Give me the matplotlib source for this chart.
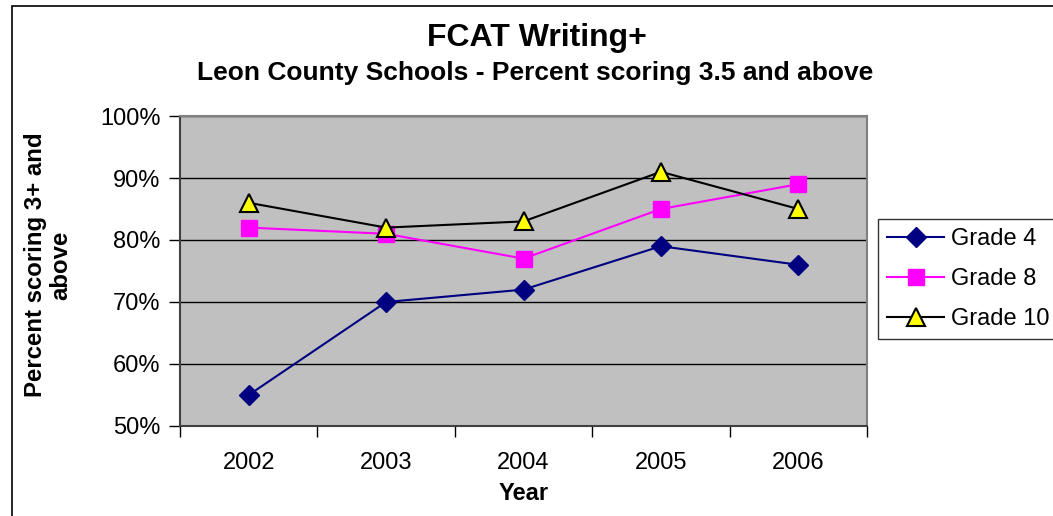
import matplotlib.pyplot as plt
from matplotlib.patches import Rectangle
from matplotlib.ticker import FuncFormatter

plt.rcParams['font.family'] = ['Liberation Sans', 'DejaVu Sans']

years = ['2002', '2003', '2004', '2005', '2006']
grade4 = [55, 70, 72, 79, 76]
grade8 = [82, 81, 77, 85, 89]
grade10 = [86, 82, 83, 91, 85]

W, H = 1053, 516
fig = plt.figure(figsize=(W / 100, H / 100), dpi=100)

# outer chart frame (runs off the right and bottom edges)
fig.patches.append(Rectangle((12 / W, -0.1), 1.2, 1 - 6 / H + 0.1,
                             transform=fig.transFigure, fill=False,
                             edgecolor='black', linewidth=1.2))

ax = fig.add_axes([180 / W, 1 - 426 / H, (867 - 180) / W, (426 - 116) / H])
ax.set_facecolor('#C0C0C0')

x = list(range(len(years)))
ax.plot(x, grade4, color='#000080', lw=1.5, marker='D', ms=10,
        mfc='#000080', mec='#000080', label='Grade 4', zorder=3)
ax.plot(x, grade8, color='#FF00FF', lw=1.5, marker='s', ms=11,
        mfc='#FF00FF', mec='#FF00FF', label='Grade 8', zorder=3)
ax.plot(x, grade10, color='black', lw=1.5, marker='^', ms=13,
        mfc='#FFFF00', mec='black', mew=1.5, label='Grade 10', zorder=3)

ax.set_xlim(-0.5, 4.5)
ax.set_ylim(50, 100)
ax.set_yticks([50, 60, 70, 80, 90, 100])
ax.yaxis.set_major_formatter(FuncFormatter(lambda v, p: f'{v:.0f}%'))
ax.set_xticks([i - 0.5 for i in range(6)])
ax.set_xticklabels([])
ax.set_xticks(x, minor=True)
ax.set_xticklabels(years, minor=True)
ax.tick_params(axis='x', which='minor', length=0, labelsize=17, pad=19)
ax.tick_params(axis='x', which='major', length=8, width=1, direction='out')
ax.tick_params(axis='y', length=8, width=1, direction='out', labelsize=17, pad=6)

ax.grid(axis='y', color='black', lw=1)
ax.set_axisbelow(True)
for s in ['top', 'right']:
    ax.spines[s].set_color('#808080')
    ax.spines[s].set_linewidth(1.5)
for s in ['left', 'bottom']:
    ax.spines[s].set_color('#404040')
    ax.spines[s].set_linewidth(1.5)

fig.text(537 / W, 1 - 38 / H, 'FCAT Writing+', ha='center', va='center',
         fontsize=23, fontweight='bold')
fig.text(535 / W, 1 - 73 / H, 'Leon County Schools - Percent scoring 3.5 and above',
         ha='center', va='center', fontsize=19, fontweight='bold')
fig.text(48 / W, 1 - 265 / H, 'Percent scoring 3+ and\nabove', ha='center',
         va='center', rotation=90, fontsize=17.3, fontweight='bold',
         linespacing=1.15)
fig.text(524 / W, 1 - 493 / H, 'Year', ha='center', va='center',
         fontsize=17, fontweight='bold')

leg = ax.legend(loc='upper left', bbox_to_anchor=(878 / W, 1 - 219 / H),
                bbox_transform=fig.transFigure, fontsize=17, frameon=True,
                fancybox=False, edgecolor='black', borderpad=0.4,
                labelspacing=0.75, handlelength=2.4, handletextpad=0.3,
                borderaxespad=0)
leg.get_frame().set_linewidth(1)

fig.savefig('out.png', dpi=100)
